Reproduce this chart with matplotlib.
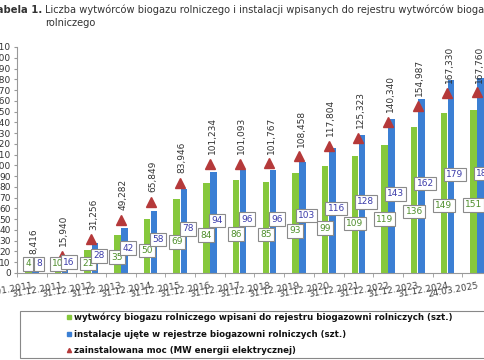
import numpy as np
import matplotlib
matplotlib.use("Agg")
import matplotlib.pyplot as plt
from matplotlib.patches import Rectangle
from matplotlib.lines import Line2D

# Data
dates = ['01.01.2011', '31.12.2011', '31.12.2012', '31.12.2013', '31.12.2014',
         '31.12.2015', '31.12.2016', '31.12.2017', '31.12.2018', '31.12.2019',
         '31.12.2020', '31.12.2021', '31.12.2022', '31.12.2023', '31.12.2024',
         '24.03.2025']
producers = [4, 10, 21, 35, 50, 69, 84, 86, 85, 93, 99, 109, 119, 136, 149, 151]
installations = [8, 16, 28, 42, 58, 78, 94, 96, 96, 103, 116, 128, 143, 162, 179, 181]
power_mw = [8.416, 15.940, 31.256, 49.282, 65.849, 83.946, 101.234, 101.093,
            101.767, 108.458, 117.804, 125.323, 140.340, 154.987, 167.330, 167.760]

green = '#86c83c'
blue = '#3b7fd4'
red = '#b5393a'

W, H = 485, 360
fig = plt.figure(figsize=(W / 100, H / 100), dpi=100)
ax = fig.add_axes([17 / W, 87 / H, 475 / W, 226 / H])

x = np.arange(len(dates))
bw = 0.22
ax.bar(x - 0.12, producers, bw, color=green, zorder=2)
ax.bar(x + 0.12, installations, bw, color=blue, zorder=2)
ax.plot(x, power_mw, linestyle='none', marker='^', markersize=7,
        color=red, zorder=4)

# value labels in boxes
box = dict(boxstyle='square,pad=0.25', fc='white', ec='#8a8a8a', lw=0.8)
for xi, p, q in zip(x, producers, installations):
    ax.text(xi - 0.12, max(0.42 * p, 8.5), str(p), ha='center', va='center',
            fontsize=6.5, color='#4f8f2c', bbox=box, zorder=5)
    ax.text(xi + 0.25, max(0.5 * q + 2, 8.5), str(q), ha='center', va='center',
            fontsize=6.5, color='#3c3caa', bbox=box, zorder=5)

for xi, m in zip(x, power_mw):
    ax.annotate(f'{m:.3f}'.replace('.', ','), (xi, m), xytext=(1.5, 7),
                textcoords='offset points', rotation=90, ha='center',
                va='bottom', fontsize=6.5, color='#333333')

ax.set_xlim(-0.5, len(dates) - 0.5)
ax.set_ylim(0, 210)
ax.set_yticks(np.arange(0, 211, 10))
ax.tick_params(axis='y', labelsize=6.5, labelcolor='#333333', length=2.5,
               color='#999999', pad=2)
ax.set_xticks(x)
ax.set_xticklabels(dates, rotation=10, ha='right', rotation_mode='anchor',
                   fontsize=6.5, color='#444444')
ax.tick_params(axis='x', length=0, pad=6)
ax.set_xticks(np.arange(-0.5, len(dates), 1), minor=True)
ax.tick_params(axis='x', which='minor', length=3, color='#999999')

for s in ['top', 'right']:
    ax.spines[s].set_visible(False)
for s in ['left', 'bottom']:
    ax.spines[s].set_color('#999999')
    ax.spines[s].set_linewidth(0.8)

# title (cut at left edge like the reference)
fig.text(-9 / W, 1 - 10 / H, 'Tabela 1.', fontsize=7.2, fontweight='bold',
         color='#333333', va='center')
fig.text(45 / W, 1 - 10 / H,
         'Liczba wytwórców biogazu rolniczego i instalacji wpisanych do rejestru wytwórców biogazu',
         fontsize=7.1, color='#333333', va='center')
fig.text(45 / W, 1 - 23 / H, 'rolniczego', fontsize=7.1, color='#333333',
         va='center')

# legend
fig.patches.append(Rectangle((20 / W, 2 / H), 470 / W, 47 / H,
                             transform=fig.transFigure, fc='white',
                             ec='#888888', lw=0.8))
handles = [Line2D([], [], ls='none', marker='s', markersize=2.5, color=green),
           Line2D([], [], ls='none', marker='s', markersize=2.5, color=blue),
           Line2D([], [], ls='none', marker='^', markersize=3, color=red)]
labels = ['wytwórcy biogazu rolniczego wpisani do rejestru biogazowni rolniczych (szt.)',
          'instalacje ujęte w rejestrze biogazowni rolniczych (szt.)',
          'zainstalowana moc (MW energii elektrycznej)']
fig.legend(handles, labels, loc='upper left', bbox_to_anchor=(65 / W, 49 / H),
           frameon=False, prop={'size': 6.2, 'weight': 'bold'},
           handlelength=0.6, handletextpad=0.3, labelspacing=0.85,
           labelcolor='#111111', borderaxespad=0, borderpad=0.2)

fig.savefig('out.png', dpi=100)
